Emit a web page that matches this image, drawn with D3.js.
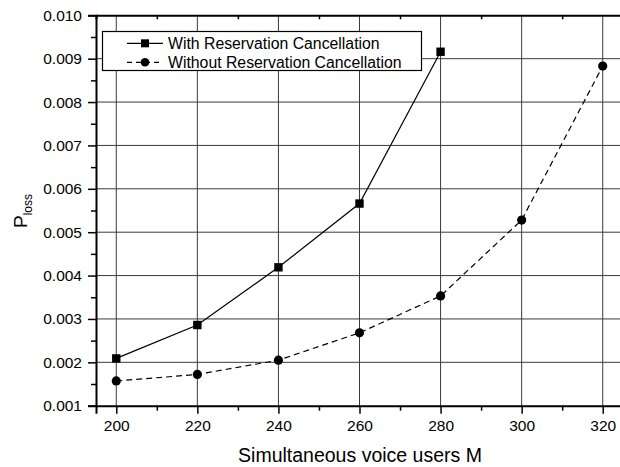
<!DOCTYPE html>
<html><head><meta charset="utf-8">
<script src="https://cdn.jsdelivr.net/npm/d3@7"></script>
<style>body{margin:0;background:#fff}svg{display:block}text{font-family:"Liberation Sans",Arial,sans-serif;fill:#000}</style>
</head><body>
<script>
const xValuesWith = [200, 220, 240, 260, 280];
const withCancel = [0.00209, 0.00286, 0.00419, 0.00566, 0.00916];
const xValuesWithout = [200, 220, 240, 260, 280, 300, 320];
const withoutCancel = [0.00157, 0.00172, 0.00205, 0.00268, 0.00353, 0.00528, 0.00883];
const xTicks = [200, 220, 240, 260, 280, 300, 320];
const yTicks = [0.001, 0.002, 0.003, 0.004, 0.005, 0.006, 0.007, 0.008, 0.009, 0.010];
const seriesNames = ["With Reservation Cancellation", "Without Reservation Cancellation"];

const W = 620, H = 467;
const svg = d3.select("body").append("svg").attr("width", W).attr("height", H);
const x = d3.scaleLinear().domain([195, 325]).range([96, 623]);
const y = d3.scaleLinear().domain([0.001, 0.010]).range([405.7, 15.3]);

// grid
const g = svg.append("g");
g.selectAll(".gx").data(xTicks).join("line")
  .attr("x1", d => x(d)).attr("x2", d => x(d)).attr("y1", y(0.010)).attr("y2", y(0.001))
  .attr("stroke", "#3a3a3a").attr("stroke-width", 1);
g.selectAll(".gy").data(yTicks.slice(1, -1)).join("line")
  .attr("y1", d => y(d)).attr("y2", d => y(d)).attr("x1", x(195)).attr("x2", x(325))
  .attr("stroke", "#3a3a3a").attr("stroke-width", 1);

// axes
const xAxis = d3.axisBottom(x).tickValues(xTicks).tickSize(8).tickPadding(6).tickFormat(d3.format("d"));
const xMinor = d3.axisBottom(x).tickValues(d3.range(210, 330, 20)).tickSize(5).tickFormat("");
const yAxis = d3.axisLeft(y).tickValues(yTicks).tickSize(8).tickPadding(6).tickFormat(d3.format(".3f"));
const yMinor = d3.axisLeft(y).tickValues(d3.range(0.0015, 0.010, 0.001)).tickSize(5).tickFormat("");
const xTop = d3.axisBottom(x).tickValues(d3.range(210, 330, 20)).tickSize(4).tickFormat("");

function style(sel, fs) {
  sel.select(".domain").attr("stroke", "#000").attr("stroke-width", 2);
  sel.selectAll(".tick line").attr("stroke", "#000").attr("stroke-width", 1.5);
  sel.selectAll("text").attr("font-size", fs).attr("font-family", '"Liberation Sans",Arial,sans-serif').attr("fill", "#000");
}
svg.append("g").attr("transform", `translate(0,${y(0.001)})`).call(xAxis).call(s => style(s, "15.5px"));
svg.append("g").attr("transform", `translate(0,${y(0.001)})`).call(xMinor).call(s => style(s, "15px")).select(".domain").remove();
svg.append("g").attr("transform", `translate(${x(195)},0)`).call(yAxis).call(s => style(s, "15.5px"));
svg.append("g").attr("transform", `translate(${x(195)},0)`).call(yMinor).call(s => style(s, "15px")).select(".domain").remove();
svg.append("g").attr("transform", `translate(0,${y(0.010)})`).call(xTop).call(s => style(s, "15px"));

// lines
const line = d3.line().x(d => x(d[0])).y(d => y(d[1]));
const d1 = xValuesWith.map((v, i) => [v, withCancel[i]]);
const d2 = xValuesWithout.map((v, i) => [v, withoutCancel[i]]);
svg.append("path").datum(d1).attr("d", line).attr("fill", "none").attr("stroke", "#000").attr("stroke-width", 1.2);
svg.append("path").datum(d2).attr("d", line).attr("fill", "none").attr("stroke", "#000").attr("stroke-width", 1.2).attr("stroke-dasharray", "6,4");
svg.selectAll(".sq").data(d1).join("rect")
  .attr("x", d => x(d[0]) - 4.2).attr("y", d => y(d[1]) - 4.2).attr("width", 8.4).attr("height", 8.4).attr("fill", "#000");
svg.selectAll(".ci").data(d2).join("circle")
  .attr("cx", d => x(d[0])).attr("cy", d => y(d[1])).attr("r", 4.6).attr("fill", "#000");

// legend
const lg = svg.append("g");
lg.append("rect").attr("x", 102.5).attr("y", 31.5).attr("width", 319).attr("height", 39)
  .attr("fill", "#fff").attr("stroke", "#000").attr("stroke-width", 1.2);
const rows = [43.3, 62.3];
seriesNames.forEach((name, i) => {
  lg.append("line").attr("x1", 127).attr("x2", 163).attr("y1", rows[i]).attr("y2", rows[i])
    .attr("stroke", "#000").attr("stroke-width", 1.2).attr("stroke-dasharray", i ? "5,4" : null);
  if (i === 0) lg.append("rect").attr("x", 145 - 4).attr("y", rows[i] - 4).attr("width", 8).attr("height", 8).attr("fill", "#000");
  else lg.append("circle").attr("cx", 145).attr("cy", rows[i]).attr("r", 4.3).attr("fill", "#000");
  lg.append("text").attr("x", 168).attr("y", rows[i] + 5.5).attr("font-size", "15.8px").text(name);
});

// titles
svg.append("text").attr("x", 360).attr("y", 462).attr("text-anchor", "middle").attr("font-size", "19.5px")
  .text("Simultaneous voice users M");
const yt = svg.append("text").attr("transform", "translate(27,211) rotate(-90)").attr("text-anchor", "middle").attr("font-size", "19px");
yt.append("tspan").text("P");
yt.append("tspan").attr("font-size", "12px").attr("dy", 5).text("loss");
</script>
</body></html>
